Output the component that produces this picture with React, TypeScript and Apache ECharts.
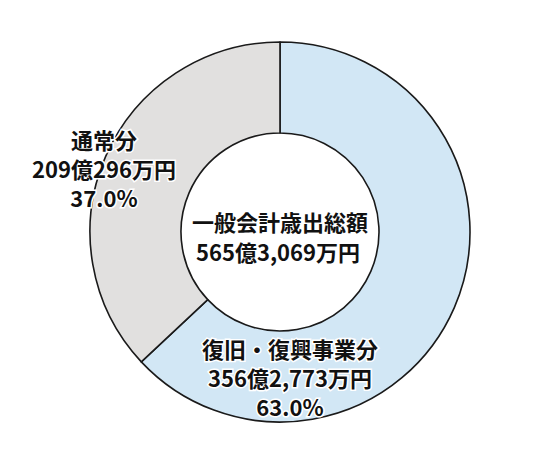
import React, { useEffect, useRef } from 'react';
import * as echarts from 'echarts';

// 一般会計歳出の内訳（万円）
const categories = ['復旧・復興事業分', '通常分'];
const amounts = [3562773, 2090296];
const amountLabels = ['356億2,773万円', '209億296万円'];
const shares = ['63.0%', '37.0%'];
const totalTitle = '一般会計歳出総額';
const totalLabel = '565億3,069万円';

const sliceColors = ['#d2e7f5', '#e1e0df'];
// ラベルの置き場所（画面座標）
const labelSpots: Array<[number, number]> = [[290, 377], [104, 168]];

const FONT = '"Noto Sans CJK JP", "Noto Sans", sans-serif';

const App: React.FC = () => {
  const chartRef = useRef<HTMLDivElement>(null);

  useEffect(() => {
    if (!chartRef.current) return;
    const chart = echarts.init(chartRef.current, undefined, { renderer: 'svg' });

    const option = {
      animation: false,
      backgroundColor: '#ffffff',
      graphic: [
        {
          type: 'text',
          x: 280,
          y: 221,
          style: {
            text: totalTitle,
            align: 'center',
            verticalAlign: 'middle',
            font: `bold 22px ${FONT}`,
            fill: '#111',
          },
        },
        {
          type: 'text',
          x: 278,
          y: 251,
          style: {
            text: totalLabel,
            align: 'center',
            verticalAlign: 'middle',
            font: `bold 22px ${FONT}`,
            fill: '#111',
          },
        },
      ],
      series: [
        {
          type: 'pie',
          radius: [99, 190],
          center: [280, 232],
          startAngle: 90,
          clockwise: true,
          silent: true,
          itemStyle: {
            borderColor: '#1a1a1a',
            borderWidth: 1.6,
          },
          label: {
            show: true,
            position: 'inside',
            color: '#111',
            fontFamily: FONT,
            fontWeight: 'bold',
            fontSize: 22,
            lineHeight: 29,
            textBorderColor: '#ffffff',
            textBorderWidth: 3,
            formatter: (p: any) =>
              `${categories[p.dataIndex]}\n${amountLabels[p.dataIndex]}\n${shares[p.dataIndex]}`,
          },
          labelLine: { show: false },
          labelLayout: (p: any) => ({
            x: labelSpots[p.dataIndex][0],
            y: labelSpots[p.dataIndex][1],
            align: 'center',
            verticalAlign: 'middle',
          }),
          data: categories.map((name, i) => ({
            name,
            value: amounts[i],
            itemStyle: { color: sliceColors[i] },
          })),
        },
      ],
    };

    chart.setOption(option);

    return () => {
      chart.dispose();
    };
  }, []);

  return (
    <div
      ref={chartRef}
      style={{ position: 'fixed', left: 0, top: 0, width: 537, height: 465 }}
    />
  );
};

export default App;
